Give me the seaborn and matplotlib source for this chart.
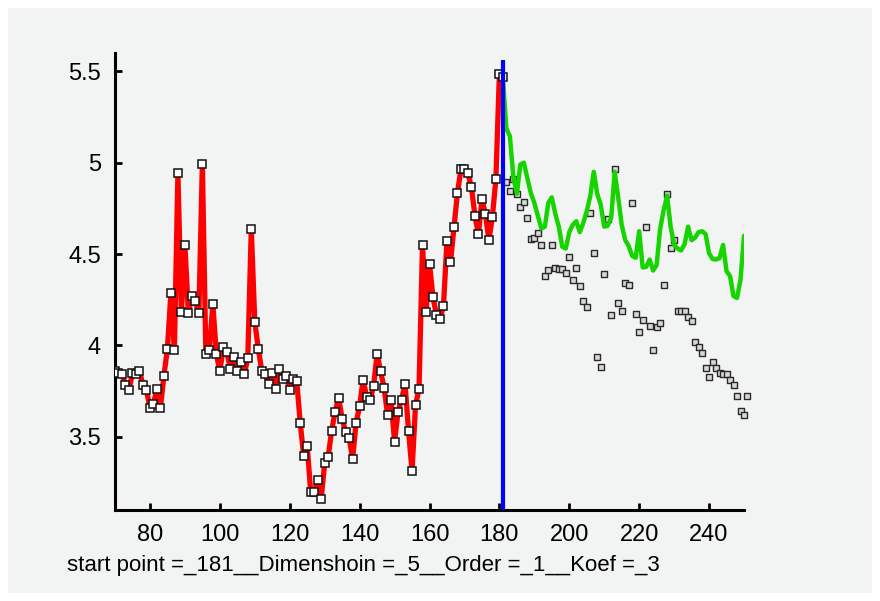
import matplotlib
matplotlib.use("Agg")
import matplotlib.pyplot as plt
from matplotlib.patches import Rectangle
import seaborn as sns
import pandas as pd

# Known history up to the start point (red), real continuation (gray), forecast (green)
history_x = list(range(70, 182))
history_y = [
    3.861, 3.851, 3.843, 3.784, 3.757, 3.851, 3.843, 3.861, 3.784, 3.757,
    3.658, 3.680, 3.762, 3.660, 3.835, 3.983, 4.285, 3.977, 4.941, 4.183,
    4.551, 4.176, 4.270, 4.241, 4.176, 4.994, 3.954, 3.977, 4.227, 3.954,
    3.861, 3.990, 3.963, 3.874, 3.937, 3.861, 3.910, 3.843, 3.932, 4.637,
    4.130, 3.983, 3.861, 3.843, 3.791, 3.850, 3.762, 3.873, 3.819, 3.835,
    3.755, 3.815, 3.808, 3.578, 3.394, 3.452, 3.198, 3.198, 3.263, 3.160,
    3.358, 3.389, 3.534, 3.638, 3.711, 3.600, 3.527, 3.496, 3.381, 3.578,
    3.668, 3.813, 3.719, 3.702, 3.777, 3.954, 3.859, 3.769, 3.622, 3.702,
    3.474, 3.637, 3.702, 3.790, 3.534, 3.314, 3.673, 3.762, 4.549, 4.181,
    4.447, 4.263, 4.168, 4.146, 4.217, 4.571, 4.455, 4.646, 4.835, 4.963,
    4.963, 4.941, 4.866, 4.711, 4.609, 4.800, 4.719, 4.578, 4.704, 4.911,
    5.484, 5.466,
]

actual_x = list(range(182, 252))
actual_y = [
    4.897, 4.844, 4.908, 4.830, 4.755, 4.786, 4.697, 4.580, 4.586, 4.616,
    4.549, 4.381, 4.411, 4.549, 4.425, 4.420, 4.420, 4.396, 4.484, 4.360,
    4.425, 4.324, 4.242, 4.212, 4.726, 4.505, 3.939, 3.881, 4.389, 4.690,
    4.168, 4.963, 4.234, 4.190, 4.343, 4.331, 4.779, 4.174, 4.075, 4.142,
    4.649, 4.109, 3.974, 4.103, 4.123, 4.331, 4.826, 4.533, 4.578, 4.187,
    4.187, 4.187, 4.156, 4.134, 4.019, 3.992, 3.961, 3.875, 3.830, 3.908,
    3.875, 3.850, 3.843, 3.843, 3.811, 3.784, 3.724, 3.642, 3.622, 3.724,
]

forecast_x = list(range(181, 251))
forecast_y = [
    5.466, 5.187, 5.145, 4.920, 4.830, 4.990, 5.000, 4.915, 4.833, 4.780,
    4.710, 4.640, 4.650, 4.780, 4.810, 4.720, 4.650, 4.540, 4.530, 4.620,
    4.660, 4.680, 4.620, 4.670, 4.735, 4.817, 4.950, 4.830, 4.770, 4.650,
    4.655, 4.700, 4.950, 4.810, 4.660, 4.577, 4.544, 4.490, 4.480, 4.625,
    4.427, 4.430, 4.470, 4.410, 4.440, 4.637, 4.740, 4.820, 4.650, 4.550,
    4.530, 4.520, 4.555, 4.650, 4.576, 4.590, 4.620, 4.625, 4.610, 4.505,
    4.473, 4.470, 4.478, 4.550, 4.407, 4.380, 4.270, 4.260, 4.360, 4.600,
]

start_point = 181
x_ticks = [80, 100, 120, 140, 160, 180, 200, 220, 240]
y_ticks = [3.5, 4.0, 4.5, 5.0, 5.5]
y_tick_labels = ["3.5", "4", "4.5", "5", "5.5"]
caption = "start point =_181__Dimenshoin =_5__Order =_1__Koef =_3"

history = pd.DataFrame({"x": history_x, "y": history_y})
actual = pd.DataFrame({"x": actual_x, "y": actual_y})
forecast = pd.DataFrame({"x": forecast_x, "y": forecast_y})

sns.set_style("ticks")
plt.rcParams["font.family"] = ["Liberation Sans", "DejaVu Sans"]

panel = "#f2f3f3"
fig = plt.figure(figsize=(8.80, 6.01), dpi=100, facecolor="white")
fig.patches.append(Rectangle((8 / 880, 1 - 593 / 601), 864 / 880, 585 / 601,
                             transform=fig.transFigure, facecolor=panel,
                             edgecolor="none", zorder=-10))
ax = fig.add_axes([115 / 880, 1 - 510 / 601, 629 / 880, 457 / 601])
ax.set_zorder(1)
ax.set_facecolor(panel)

# real continuation after the start point
sns.scatterplot(data=actual, x="x", y="y", ax=ax, marker="s", s=20,
                facecolor="#d8d8d8", edgecolor="#2a2a2a", linewidth=1.0,
                clip_on=False, zorder=2, legend=False)

# forecast
sns.lineplot(data=forecast, x="x", y="y", ax=ax, color="#16d400",
             linewidth=3.2, zorder=3, legend=False)

# history with markers
sns.lineplot(data=history, x="x", y="y", ax=ax, color="#ff0000",
             linewidth=3.8, marker="s", markersize=5.5,
             markerfacecolor="white", markeredgecolor="#111111",
             markeredgewidth=1.1, zorder=4, legend=False)

ax.set_xlim(70, 250)
ax.set_ylim(3.1, 5.6)

# start point marker line
ax.vlines(start_point, 3.1, 5.56, colors="#0000ff", linewidth=3.0, zorder=5)

ax.set_xticks(x_ticks)
ax.set_yticks(y_ticks)
ax.set_yticklabels(y_tick_labels)
ax.tick_params(direction="in", length=5, width=2, colors="black",
               labelsize=17, pad=10)
for side in ("top", "right"):
    ax.spines[side].set_visible(False)
for side in ("left", "bottom"):
    ax.spines[side].set_linewidth(2.2)
    ax.spines[side].set_color("black")
ax.set_xlabel("")
ax.set_ylabel("")

fig.text(67 / 880, 1 - 566 / 601, caption, ha="left", va="center",
         fontsize=16, color="black")

fig.savefig("out.png", dpi=100, facecolor=fig.get_facecolor())
